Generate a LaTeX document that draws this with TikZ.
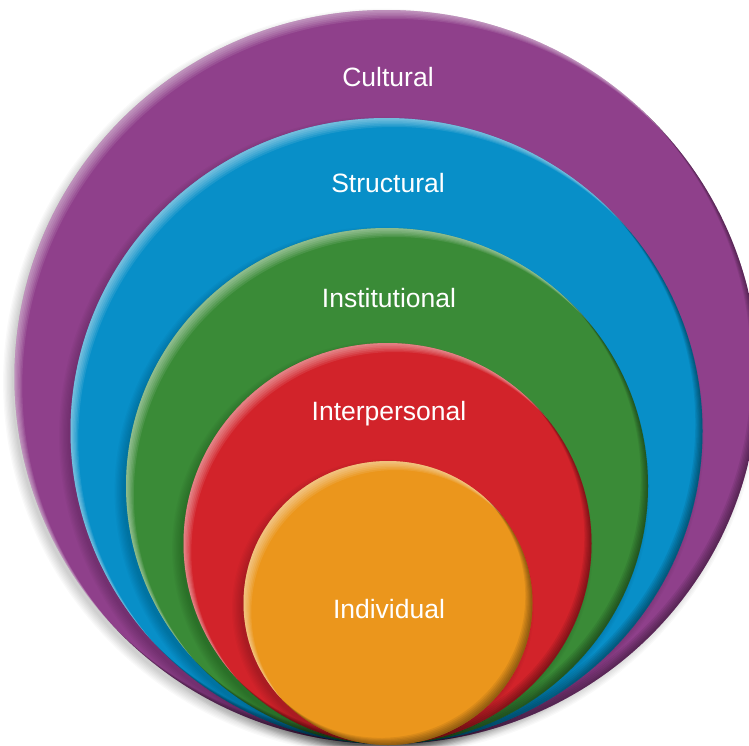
\documentclass[tikz,border=0pt]{standalone}
\usepackage{fontspec}
\setmainfont{Liberation Sans}
\definecolor{cpurple}{RGB}{143,64,139}
\definecolor{cblue}{RGB}{8,143,200}
\definecolor{cgreen}{RGB}{58,139,55}
\definecolor{cred}{RGB}{210,35,42}
\definecolor{corange}{RGB}{235,150,28}
\tikzset{
  lbl/.style={text=white,font=\fontsize{26.5}{27}\selectfont,inner sep=0pt,anchor=center}
}
\begin{document}
\begin{tikzpicture}[x=1pt,y=-1pt]
\useasboundingbox (0,0) rectangle (749,745);
\clip (0,0) rectangle (749,745);
\fill[white] (0,0) rectangle (749,745);
\foreach \cx/\cy/\rx/\r/\col/\nm in {386.5/377/372/367/cpurple/c1,386.5/431/316/313/cblue/c2,387/486/261/258/cgreen/c3,387.5/543.5/204/200.5/cred/c4,388/603/144.5/142/corange/c5}{
  % soft shadow
  \foreach \i in {1,...,8}{
    \fill[black,opacity=0.022] (\cx-5,\cy+5) ellipse[x radius=\rx+\i*1.3-4,y radius=\r+\i*1.3-4];
  }
  \fill[\col] (\cx,\cy) ellipse[x radius=\rx,y radius=\r];
  \begin{scope}
    \clip (\cx,\cy) ellipse[x radius=\rx,y radius=\r];
    % highlight at top-left
    \foreach \k in {1,...,6}{
      \fill[white,opacity=0.09,even odd rule] (\cx,\cy) ellipse[x radius=\rx+1,y radius=\r+1] (\cx+\k*1.3,\cy+\k*1.5) ellipse[x radius=\rx,y radius=\r];
    }
    % darker rim at bottom-right
    \foreach \k in {1,...,6}{
      \fill[black,opacity=0.07,even odd rule] (\cx,\cy) ellipse[x radius=\rx+1,y radius=\r+1] (\cx-\k*1.2,\cy-\k*1.2) ellipse[x radius=\rx,y radius=\r];
    }
  \end{scope}
  \node[coordinate] (\nm) at (\cx,\cy) {};
}
\node[lbl] (t1) at (388,77) {Cultural};
\node[lbl] (t2) at (388,183) {Structural};
\node[lbl] (t3) at (389,298) {Institutional};
\node[lbl] (t4) at (389,414) {Interpersonal};
\node[lbl] (t5) at (389,609) {Individual};
\end{tikzpicture}
\end{document}
